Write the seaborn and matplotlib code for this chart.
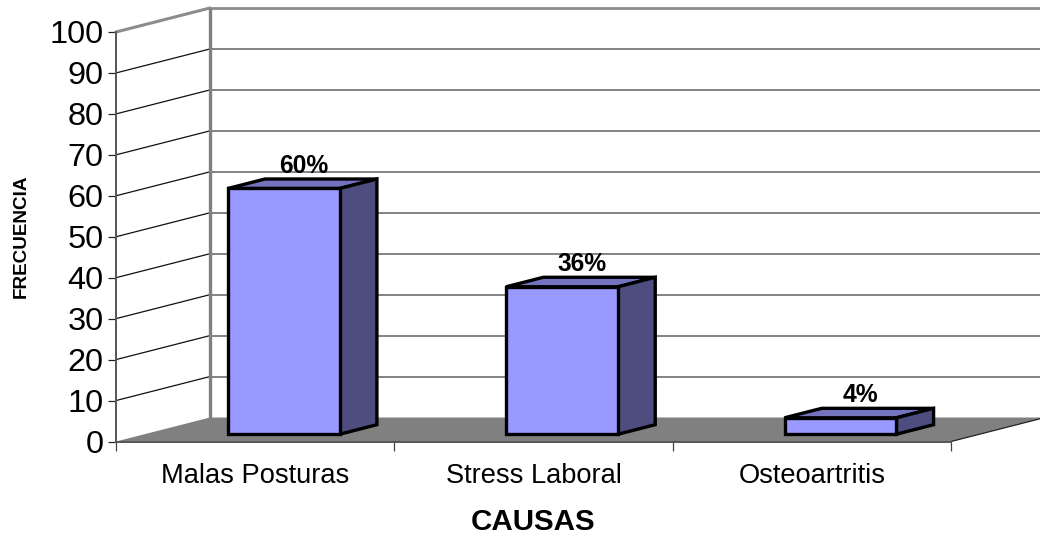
import matplotlib
matplotlib.use("Agg")
import matplotlib.pyplot as plt
from matplotlib.patches import Polygon
from matplotlib.transforms import Affine2D, IdentityTransform
import numpy as np
import pandas as pd
import seaborn as sns

causas = ["Malas Posturas", "Stress Laboral", "Osteoartritis"]
frecuencia = [60, 36, 4]
marcas_y = list(range(0, 101, 10))

sns.set_theme(style="white")
plt.rcParams["font.family"] = ["Liberation Sans", "DejaVu Sans"]

W, H = 1040, 537
fig = plt.figure(figsize=(W / 100, H / 100), dpi=100, facecolor="white")
ax = fig.add_axes([116 / W, (H - 441.5) / H, 835 / W, 409.5 / H])
ax.patch.set_alpha(0)

tabla = pd.DataFrame({"causa": causas, "frecuencia": frecuencia})
sns.barplot(data=tabla, x="causa", y="frecuencia", color="#9999FF", saturation=1,
            width=0.402, edgecolor="black", linewidth=2.4, ax=ax, zorder=5)
ax.set_xlim(-0.5, 2.5)
ax.set_ylim(0, 100)

# Oblique projection: depth runs from the front plane (0) to the back wall (1).
DX, DY = 94.0, 24.0
BAR_FRONT, BAR_BACK = 0.305, 0.70


def depth(f):
    return ax.transData + Affine2D().translate(DX * f, DY * f)


def px(x, y, f):
    return depth(f).transform((x, y))


def poly(x_y_f, face, z, edge="none", lw=0):
    pts = [px(*p) for p in x_y_f]
    ax.add_patch(Polygon(pts, closed=True, transform=IdentityTransform(), facecolor=face,
                         edgecolor=edge, linewidth=lw, clip_on=False, zorder=z,
                         joinstyle="miter"))


# Floor
poly([(-0.5, 0, 0), (-0.5, 0, 1), (2.5, 0, 1), (2.5, 0, 0)], "#808080", 1)

# Back wall and side wall grid lines
for v in marcas_y[1:]:
    top = v == 100
    ax.plot([-0.5, 2.5], [v, v], transform=depth(1), color="#6e6e6e" if not top else "#8c8c8c",
            lw=1.2 if not top else 2.0, clip_on=False, zorder=2, solid_capstyle="butt")
    a, b = px(-0.5, v, 0), px(-0.5, v, 1)
    ax.plot([a[0], b[0]], [a[1], b[1]], transform=IdentityTransform(),
            color="#8c8c8c" if top else "#111111", lw=2.2 if top else 0.9,
            clip_on=False, zorder=2)
ax.plot([-0.5, -0.5], [0, 100], transform=depth(1), color="#808080", lw=2.4,
        clip_on=False, zorder=3, solid_capstyle="butt")

# Right edge of the floor
a, b = px(2.5, 0, 0), px(2.5, 0, 1)
ax.plot([a[0], b[0]], [a[1], b[1]], transform=IdentityTransform(), color="#222222", lw=0.9,
        clip_on=False, zorder=2)

# Bars: shift the front faces into depth, then add their top and side faces
for barra, valor in zip(ax.patches, frecuencia):
    x0, x1 = barra.get_x(), barra.get_x() + barra.get_width()
    barra.set_transform(depth(BAR_FRONT))
    barra.set_clip_on(False)
    barra.set_joinstyle("miter")
    poly([(x0, valor, BAR_FRONT), (x1, valor, BAR_FRONT), (x1, valor, BAR_BACK), (x0, valor, BAR_BACK)],
         "#7373BF", 4, "black", 2.4)
    poly([(x1, 0, BAR_FRONT), (x1, valor, BAR_FRONT), (x1, valor, BAR_BACK), (x1, 0, BAR_BACK)],
         "#4D4D80", 4, "black", 2.4)
    etiqueta = ax.transData + Affine2D().translate(DX * 0.5 + 1.5, DY * 0.5 + 11)
    ax.text((x0 + x1) / 2, valor, f"{valor}%", transform=etiqueta, ha="center", va="baseline",
            fontsize=17.7, fontweight="bold", color="black", clip_on=False, zorder=6)

# Front axes
for lado in ("top", "right"):
    ax.spines[lado].set_visible(False)
for lado in ("left", "bottom"):
    ax.spines[lado].set_color("#555555")
    ax.spines[lado].set_linewidth(1.4)
    ax.spines[lado].set_zorder(3)
ax.set_yticks(marcas_y)
ax.set_xticks(range(len(causas)))
ax.set_xticklabels(causas)
ax.set_xticks(np.arange(-0.5, 3.0, 1.0), minor=True)
ax.tick_params(axis="y", which="major", left=True, length=5.8, width=0.9, color="#222222",
               labelsize=23.4, pad=3.2, labelcolor="black")
ax.tick_params(axis="x", which="major", bottom=False, labelsize=19.6, pad=9.2, labelcolor="black")
ax.tick_params(axis="x", which="minor", bottom=True, length=6.2, width=0.9, color="#444444")
ax.set_xlabel("")
ax.set_ylabel("")

fig.text(533.5 / W, (H - 521.5) / H, "CAUSAS", ha="center", va="center", fontsize=21.3,
         fontweight="bold", color="black")
fig.text(21 / W, (H - 236.5) / H, "FRECUENCIA", rotation=90, ha="center", va="center",
         fontsize=13.6, fontweight="bold", color="black")

fig.savefig("out.png", dpi=100, facecolor="white")
